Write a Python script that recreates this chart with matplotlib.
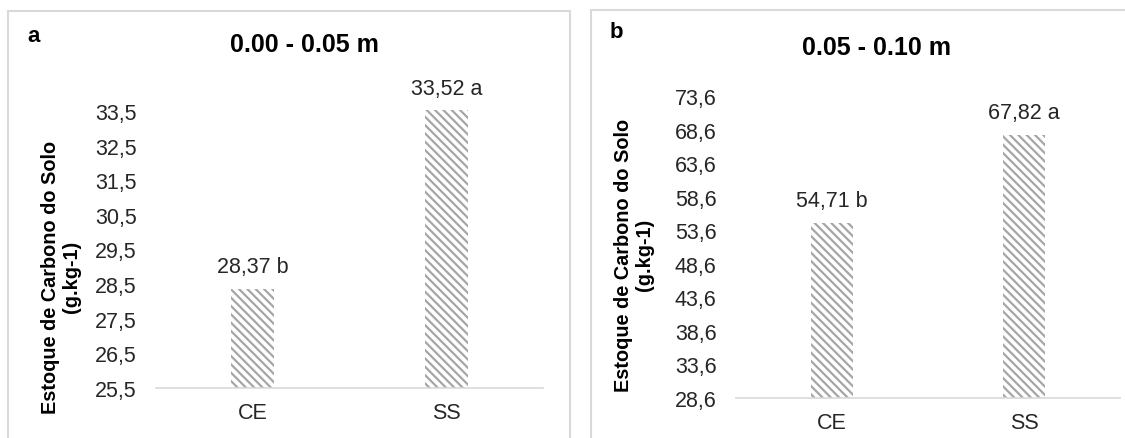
import matplotlib.pyplot as plt
from matplotlib.patches import Rectangle

plt.rcParams['font.family'] = ['Liberation Sans', 'DejaVu Sans']
plt.rcParams['hatch.linewidth'] = 1.6

# soil carbon stock per treatment and depth
tratamentos = ["CE", "SS"]
estoque_0_5 = [28.37, 33.52]
letras_0_5 = ["b", "a"]
estoque_5_10 = [54.71, 67.82]
letras_5_10 = ["b", "a"]

ticks_0_5 = [25.5, 26.5, 27.5, 28.5, 29.5, 30.5, 31.5, 32.5, 33.5]
ticks_5_10 = [28.6, 33.6, 38.6, 43.6, 48.6, 53.6, 58.6, 63.6, 68.6, 73.6]

W, H = 1125, 439
fig = plt.figure(figsize=(W / 100, H / 100), dpi=100)
fig.patch.set_facecolor("white")

# light grey panel frames (bottom edge falls off the figure)
fig.patches.append(Rectangle((8 / W, -0.1), (570 - 8) / W, 1.1 - 12 / H,
                             transform=fig.transFigure, fill=False,
                             edgecolor="#d9d9d9", linewidth=1.5))
fig.patches.append(Rectangle((591 / W, -0.1), 0.5, 1.1 - 11 / H,
                             transform=fig.transFigure, fill=False,
                             edgecolor="#d9d9d9", linewidth=1.5))

FS = 15.5


def painel(rect, valores, letras, ticks, titulo, tag, tag_xy, titulo_xy, ylab_xy):
    ax = fig.add_axes(rect)
    x = range(len(tratamentos))
    bars = ax.bar(x, [v - ticks[0] for v in valores], bottom=ticks[0], width=0.22,
                  color="white", edgecolor="#a6a6a6", linewidth=0, hatch="\\\\\\\\")
    for b in bars:
        b.set_clip_on(False)
    for xi, v, l in zip(x, valores, letras):
        ax.annotate(f"{v:.2f}".replace(".", ",") + " " + l, (xi, v),
                    xytext=(0, 16), textcoords="offset points", annotation_clip=False,
                    ha="center", va="center", fontsize=FS, color="#262626")
    ax.set_xlim(-0.5, 1.5)
    ax.set_ylim(ticks[0], ticks[-1])
    ax.set_yticks(ticks)
    ax.set_yticklabels([f"{t:.1f}".replace(".", ",") for t in ticks])
    ax.set_xticks(list(x))
    ax.set_xticklabels(tratamentos)
    ax.tick_params(axis="y", length=0, pad=14, labelsize=FS, labelcolor="#262626")
    ax.tick_params(axis="x", length=0, pad=10, labelsize=FS, labelcolor="#262626")
    for s in ["top", "right", "left"]:
        ax.spines[s].set_visible(False)
    ax.spines["bottom"].set_color("#d9d9d9")
    ax.spines["bottom"].set_linewidth(1.2)
    fig.text(titulo_xy[0] / W, 1 - titulo_xy[1] / H, titulo, ha="center", va="center",
             fontsize=18, fontweight="bold", color="black")
    fig.text(tag_xy[0] / W, 1 - tag_xy[1] / H, tag, ha="center", va="center",
             fontsize=16, fontweight="bold", color="black")
    fig.text(ylab_xy[0] / W, 1 - ylab_xy[1] / H,
             "Estoque de Carbono do Solo\n(g.kg-1)", rotation=90,
             ha="center", va="center", fontsize=14.3, fontweight="bold",
             linespacing=1.15, color="black")
    return ax


painel([156 / W, (H - 389) / H, 387 / W, (389 - 112) / H],
       estoque_0_5, letras_0_5, ticks_0_5, "0.00 - 0.05 m", "a",
       (34, 37), (304, 45), (61, 277))
painel([736 / W, (H - 399) / H, 384 / W, (399 - 97) / H],
       estoque_5_10, letras_5_10, ticks_5_10, "0.05 - 0.10 m", "b",
       (616, 33), (877, 48), (634, 255))

fig.savefig("out.png", dpi=100)
